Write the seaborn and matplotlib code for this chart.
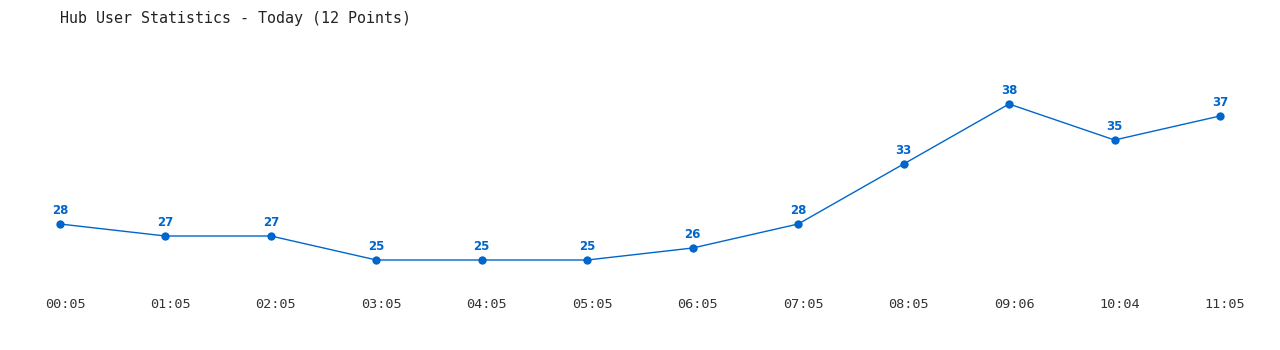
import matplotlib
matplotlib.use("Agg")
import matplotlib.pyplot as plt
import matplotlib.transforms as mtransforms
import seaborn as sns
import pandas as pd

times = ["00:05", "01:05", "02:05", "03:05", "04:05", "05:05",
         "06:05", "07:05", "08:05", "09:06", "10:04", "11:05"]
users = [28, 27, 27, 25, 25, 25, 26, 28, 33, 38, 35, 37]

sns.set_theme(style="white")
plt.rcParams['font.family'] = ['DejaVu Sans Mono', 'DejaVu Sans']

W, H = 1280, 350
fig = plt.figure(figsize=(W / 100, H / 100), dpi=100)
# axes from pixel y=40 to y=290
ax = fig.add_axes([0, 60 / H, 1, 250 / H])

df = pd.DataFrame({"idx": range(len(times)), "users": users})
color = "#0066cc"
sns.lineplot(data=df, x="idx", y="users", ax=ax, color=color, linewidth=1,
             marker="o", markersize=6, markeredgewidth=0)

for i, v in enumerate(users):
    ax.annotate(str(v), (i, v), xytext=(0, 5), textcoords="offset points",
                ha="center", va="bottom", fontsize=8.5, fontweight="bold",
                color=color, family="DejaVu Sans")

x0 = -60 / 105.45
x1 = (W - 60) / 105.45
ax.set_xlim(x0, x1)
ax.set_ylim(25 - 30 / 12, 25 + 220 / 12)
ax.set_xticks(range(len(times)))
ax.set_xticklabels(times, fontsize=9.7, color="#333333")
ax.set_yticks([])
ax.tick_params(axis="x", length=0, pad=6)
shift = mtransforms.ScaledTranslation(5 / 100, 0, fig.dpi_scale_trans)
for lab in ax.get_xticklabels():
    lab.set_transform(lab.get_transform() + shift)
ax.set_xlabel("")
ax.set_ylabel("")
for s in ax.spines.values():
    s.set_visible(False)
ax.set_facecolor("white")

fig.text(60 / W, 1 - 18 / H, "Hub User Statistics - Today (12 Points)",
         ha="left", va="center", fontsize=10.8, color="#222222")

fig.savefig("out.png", dpi=100, facecolor="white")
